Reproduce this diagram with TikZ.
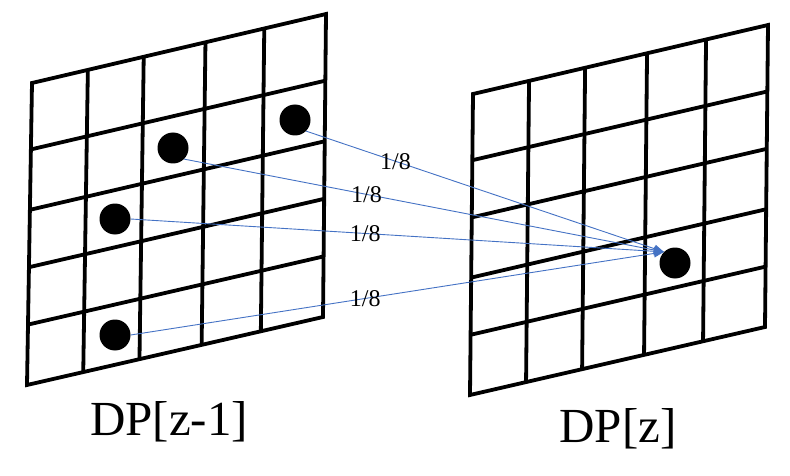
\documentclass[tikz,border=0pt]{standalone}
\usepackage{fontspec}
\setmainfont{Liberation Serif}
\usetikzlibrary{arrows.meta,calc}
\definecolor{linkblue}{HTML}{4472C4}

\begin{document}
\begin{tikzpicture}[x=1pt,y=-1pt,
 gridline/.style={line width=3.8pt},
 cell/.style={circle,fill=black,inner sep=0pt,minimum size=31pt},
 link/.style={draw=linkblue,line width=0.9pt,-{Triangle[length=10pt,width=8pt]}},
 weight/.style={font=\fontsize{24}{26}\selectfont,inner sep=1pt},
 title/.style={font=\fontsize{49}{52}\selectfont,anchor=base}]
\useasboundingbox (0,0) rectangle (790,476);
% layer z-1
\coordinate (ptl) at (32,83); \coordinate (ptr) at (326,14);
\coordinate (pbr) at (323,317); \coordinate (pbl) at (27,385);
\draw[gridline] (ptl)--(ptr)--(pbr)--(pbl)--cycle;
\foreach \f in {0.19,0.38,0.59,0.79} \draw[gridline] ($(ptl)!\f!(ptr)$)--($(pbl)!\f!(pbr)$);
\foreach \f in {0.22,0.42,0.61,0.80} \draw[gridline] ($(ptl)!\f!(pbl)$)--($(ptr)!\f!(pbr)$);
% layer z
\coordinate (ctl) at (473,94); \coordinate (ctr) at (768,25);
\coordinate (cbr) at (765,327); \coordinate (cbl) at (470,395);
\draw[gridline] (ctl)--(ctr)--(cbr)--(cbl)--cycle;
\foreach \f in {0.19,0.38,0.59,0.79} \draw[gridline] ($(ctl)!\f!(ctr)$)--($(cbl)!\f!(cbr)$);
\foreach \f in {0.22,0.41,0.61,0.80} \draw[gridline] ($(ctl)!\f!(cbl)$)--($(ctr)!\f!(cbr)$);
\node[cell] (d1) at (295,120) {};
\node[cell] (d2) at (173,148) {};
\node[cell] (d3) at (115,219) {};
\node[cell] (d4) at (115,335) {};
\node[cell] (t) at (675,263) {};
\draw[link] (d1.south east)--node[weight,pos=0.25]{1/8}(t.north west);
\draw[link] (d2.south east)--node[weight,pos=0.38]{1/8}(t.north west);
\draw[link] (d3.east)--node[weight,pos=0.44]{1/8}(t.north west);
\draw[link] (d4.east)--node[weight,pos=0.44]{1/8}(t.north west);
\node[title] (prev) at (169,435) {DP[z-1]};
\node[title] (cur) at (618,442) {DP[z]};
\end{tikzpicture}
\end{document}
